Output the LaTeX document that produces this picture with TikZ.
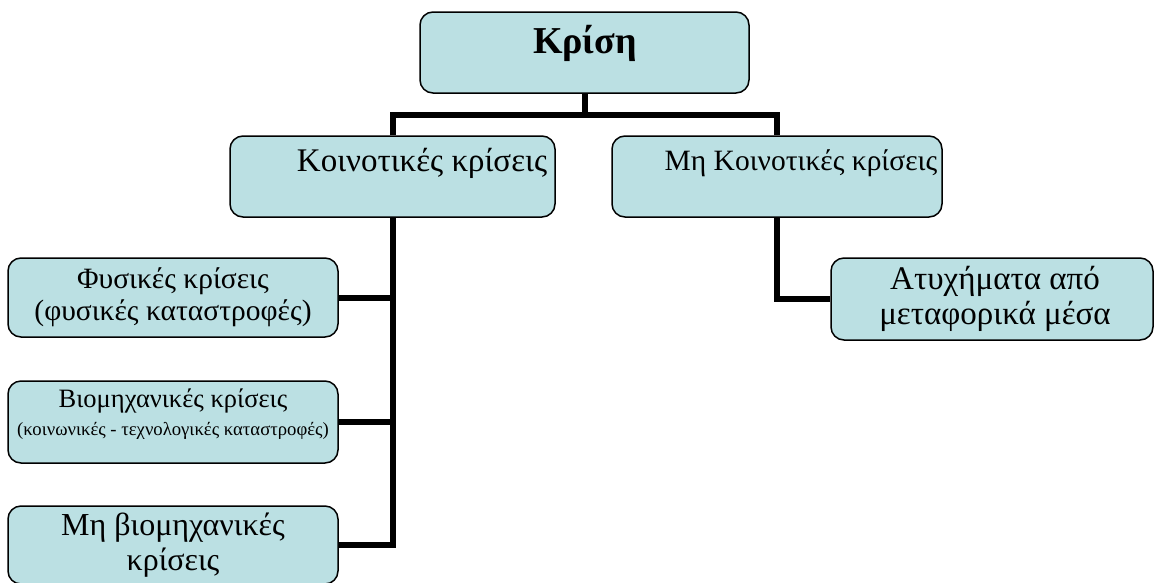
\documentclass[tikz,border=0pt]{standalone}
\usepackage{fontspec}
\setmainfont{Liberation Serif}
\definecolor{boxfill}{RGB}{187,224,227}
\tikzset{
  box/.style={draw=black, line width=1.5pt, fill=boxfill, rounded corners=13pt, inner sep=0pt, align=center},
  link/.style={line width=6pt, line join=miter},
  txt/.style={inner sep=0pt, align=center}
}
\begin{document}
\begin{tikzpicture}[x=1pt, y=-1pt]
\useasboundingbox (0,0) rectangle (1154,582);

% the boxes
\node[box, minimum width=329pt, minimum height=81pt] (krisi) at (584.5,52.5) {};
\node[box, minimum width=325pt, minimum height=81pt] (koin) at (392.5,176.5) {};
\node[box, minimum width=330pt, minimum height=81pt] (mhkoin) at (777,176.5) {};
\node[box, minimum width=322pt, minimum height=82pt] (atyx) at (992,299) {};
\node[box, minimum width=330pt, minimum height=79pt] (fys) at (173,297.5) {};
\node[box, minimum width=330pt, minimum height=82pt] (bio) at (173,422) {};
\node[box, minimum width=330pt, minimum height=78pt] (mhbio) at (173,545) {};

% the texts
\node[txt, font=\fontsize{38}{40}\selectfont\bfseries] (krisi-t) at (585,43) {Κρίση};
\node[txt, font=\fontsize{33}{35}\selectfont] (koin-t) at (422,163) {Κοινοτικές κρίσεις};
\node[txt, font=\fontsize{29.5}{32}\selectfont] (mhkoin-t) at (801,163) {Μη Κοινοτικές κρίσεις};
\node[txt, font=\fontsize{33}{35}\selectfont] (atyx-t) at (995,299) {Ατυχήματα από\\μεταφορικά μέσα};
\node[txt, font=\fontsize{29.5}{32}\selectfont] (fys-t) at (173,297) {Φυσικές κρίσεις\\(φυσικές καταστροφές)};
\node[txt, font=\fontsize{26.5}{28}\selectfont] (bio-t) at (173,414) {Βιομηχανικές κρίσεις\\{\fontsize{18.7}{25}\selectfont(κοινωνικές - τεχνολογικές καταστροφές)}};
\node[txt, font=\fontsize{32}{35}\selectfont] (mhbio-t) at (173,545) {Μη βιομηχανικές\\κρίσεις};

% the connectors
\coordinate (fork) at (584.5,114.5);
\draw[link] (krisi.south) -- (fork);
\draw[link] (koin.north) |- (fork) -| (mhkoin.north);
\draw[link] (koin.south) |- (mhbio.east);
\draw[link] (koin.south |- fys.east) -- (fys.east);
\draw[link] (koin.south |- bio.east) -- (bio.east);
\draw[link] (mhkoin.south) |- (atyx.west);
\end{tikzpicture}
\end{document}
